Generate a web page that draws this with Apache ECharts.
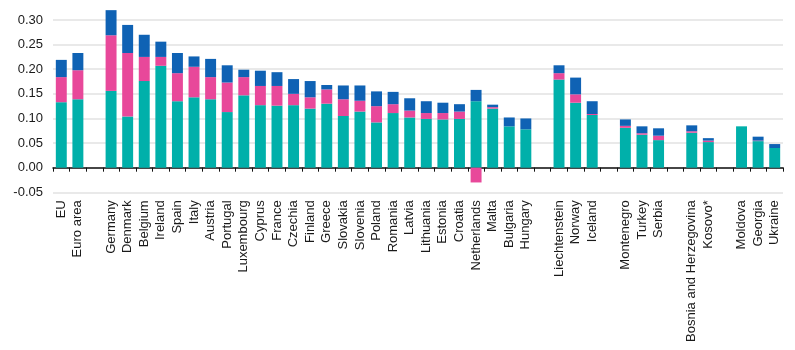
<!DOCTYPE html>
<html><head><meta charset="utf-8">
<script src="https://cdn.jsdelivr.net/npm/echarts@6/dist/echarts.min.js"></script>
<style>html,body{margin:0;padding:0;background:#fff}#c{width:795px;height:350px}</style>
</head><body><div id="c"></div>
<script>
var categories = ["EU","Euro area","",
  "Germany","Denmark","Belgium","Ireland","Spain","Italy","Austria","Portugal","Luxembourg","Cyprus","France","Czechia","Finland","Greece","Slovakia","Slovenia","Poland","Romania","Latvia","Lithuania","Estonia","Croatia","Netherlands","Malta","Bulgaria","Hungary","",
  "Liechtenstein","Norway","Iceland","",
  "Montenegro","Turkey","Serbia","",
  "Bosnia and Herzegovina","Kosovo*","",
  "Moldova","Georgia","Ukraine"];
var tealValues = [0.133,0.139,null,
  0.156,0.104,0.176,0.207,0.135,0.143,0.139,0.113,0.147,0.127,0.126,0.127,0.120,0.130,0.105,0.114,0.092,0.111,0.102,0.099,0.098,0.099,0.135,0.120,0.084,0.078,null,
  0.179,0.132,0.107,null,
  0.081,0.067,0.056,null,
  0.071,0.052,null,
  0.084,0.054,0.040];
var pinkValues = [0.051,0.059,null,
  0.113,0.129,0.049,0.018,0.057,0.062,0.045,0.060,0.037,0.039,0.040,0.023,0.023,0.029,0.034,0.022,0.033,0.018,0.014,0.012,0.013,0.015,-0.030,0.003,0,0,null,
  0.013,0.017,0.002,null,
  0.004,0.003,0.009,null,
  0.003,0.003,null,
  0,0.001,0];
var blueValues = [0.035,0.035,null,
  0.051,0.057,0.045,0.031,0.041,0.021,0.037,0.035,0.015,0.031,0.028,0.030,0.033,0.009,0.028,0.031,0.030,0.025,0.025,0.024,0.021,0.015,0.023,0.005,0.018,0.022,null,
  0.016,0.034,0.026,null,
  0.013,0.014,0.015,null,
  0.012,0.005,null,
  0,0.008,0.008];
var yTicks = [-0.05,0,0.05,0.10,0.15,0.20,0.25,0.30];

var chart = echarts.init(document.getElementById('c'), null, {renderer:'canvas'});
var font = 'Liberation Sans, Arial, sans-serif';
function bar(name, data, color){
  return {name:name, type:'bar', stack:'s', data:data, xAxisIndex:0, barWidth:'66%', clip:false,
    itemStyle:{color:color}, emphasis:{disabled:true}};
}
chart.setOption({
  animation:false,
  grid:{left:53, right:12, top:20, bottom:157.7, containLabel:false},
  xAxis:[
    {type:'category', data:categories, position:'bottom',
     axisLine:{show:false, onZero:false}, axisTick:{show:false},
     axisLabel:{rotate:90, interval:0, margin:8, fontSize:13, color:'#1a1a1a', fontFamily:font}},
    {type:'category', data:categories, position:'top',
     axisLine:{show:true, onZero:true, lineStyle:{color:'#111', width:1.5}},
     axisTick:{show:true, inside:true, interval:0, length:4, lineStyle:{color:'#111', width:1}},
     axisLabel:{show:false, interval:0}, splitLine:{show:false}}
  ],
  yAxis:{type:'value', min:yTicks[0], max:yTicks[yTicks.length-1], interval:0.05,
    axisLine:{show:false}, axisTick:{show:false},
    axisLabel:{fontSize:13, color:'#1a1a1a', fontFamily:font, margin:10,
      formatter:function(v){return v.toFixed(2);}},
    splitLine:{lineStyle:{color:'#e2e2e2', width:1.5}}},
  series:[
    bar('teal', tealValues, '#00b0aa'),
    bar('pink', pinkValues, '#e8489a'),
    bar('blue', blueValues, '#0f62b4')
  ]
});
</script></body></html>
